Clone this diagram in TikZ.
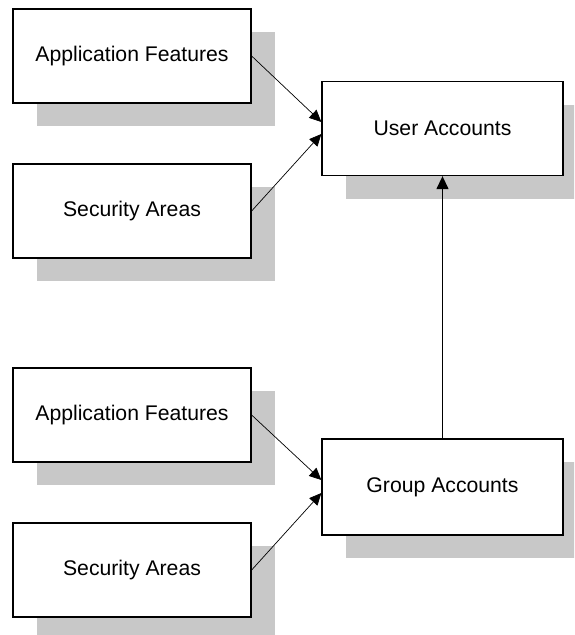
\documentclass[tikz,border=0pt]{standalone}
\usepackage{fontspec}
\setmainfont{Liberation Sans}
\usetikzlibrary{arrows.meta,shadows}
\definecolor{shadowgray}{RGB}{200,200,200}
\tikzset{
  box/.style={draw=black, line width=1.3pt, fill=white, rectangle, inner sep=0pt,
    font=\fontsize{21.2}{24}\selectfont,
    drop shadow={shadow xshift=24pt, shadow yshift=-23pt, fill=shadowgray, opacity=1, draw=none}},
  leftbox/.style={box, minimum width=238pt, minimum height=94pt},
  rightbox/.style={box, minimum width=241pt, minimum height=94pt},
  conn/.style={line width=0.7pt, -{Triangle[length=12pt,width=11pt]}},
  vconn/.style={line width=1.3pt, -{Triangle[length=13pt,width=12pt]}}
}
\begin{document}
\begin{tikzpicture}[x=1pt,y=-1pt]
\useasboundingbox (0,0) rectangle (574,635);
\clip (0,0) rectangle (574,635);
\fill[white] (0,0) rectangle (574,635);
\node[leftbox] (af1) at (132,56) {Application Features};
\node[leftbox] (sa1) at (132,211) {Security Areas};
\node[rightbox] (ua) at (442.5,128.5) {User Accounts};
\node[leftbox] (af2) at (132,415) {Application Features};
\node[leftbox] (sa2) at (132,570) {Security Areas};
\node[rightbox, minimum height=96pt] (ga) at (442.5,487) {Group Accounts};
\draw[conn] (af1.east) -- ([yshift=6.5pt]ua.west);
\draw[conn] (sa1.east) -- ([yshift=-5.5pt]ua.west);
\draw[conn] (af2.east) -- ([yshift=7pt]ga.west);
\draw[conn] (sa2.east) -- ([yshift=-6pt]ga.west);
\draw[vconn] (ga.north) -- (ua.south);
\end{tikzpicture}
\end{document}
